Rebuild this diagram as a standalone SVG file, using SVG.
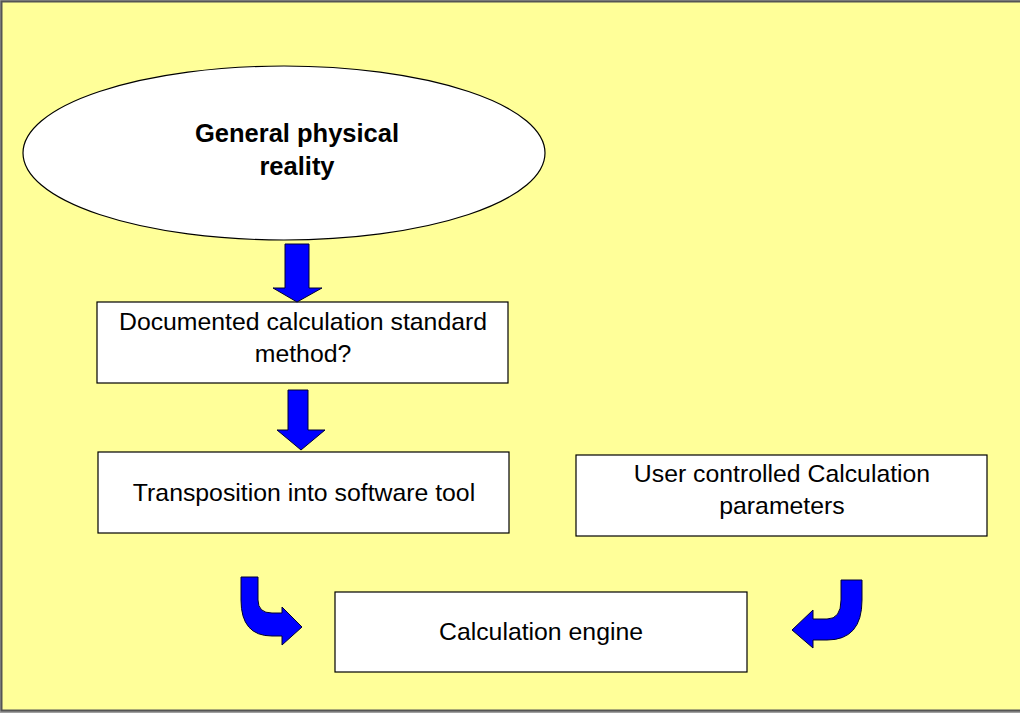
<svg xmlns="http://www.w3.org/2000/svg" width="1020" height="713" viewBox="0 0 1020 713">
<style>
.box{fill:#fff;stroke:#000;stroke-width:1.2}
.t{font-family:"Liberation Sans",Arial,sans-serif;font-size:24.8px;fill:#000;text-anchor:middle}
.b{font-weight:bold;font-size:25.5px}
.arr{fill:#0000ff;stroke:#000033;stroke-width:1}
</style>
<rect x="0" y="0" width="1020" height="713" fill="#a0a0a0"/>
<rect x="1.5" y="1.5" width="1020" height="709" fill="#ffff99" stroke="#555" stroke-width="2"/>
<g id="n1">
<ellipse cx="284" cy="153" rx="261" ry="87" class="box"/>
<text class="t b" x="297" y="142">General physical</text>
<text class="t b" x="297" y="175">reality</text>
</g>
<g id="n2">
<rect x="97" y="302" width="411" height="81" class="box"/>
<text class="t" x="303" y="330">Documented calculation standard</text>
<text class="t" x="303" y="362">method?</text>
</g>
<g id="n3">
<rect x="98" y="452" width="411" height="81" class="box"/>
<text class="t" x="304" y="501">Transposition into software tool</text>
</g>
<g id="n4">
<rect x="576" y="455" width="411" height="81" class="box"/>
<text class="t" x="782" y="482">User controlled Calculation</text>
<text class="t" x="782" y="514">parameters</text>
</g>
<g id="n5">
<rect x="335" y="592" width="412" height="80" class="box"/>
<text class="t" x="541" y="640">Calculation engine</text>
</g>
<g id="connectors">
<path class="arr" d="M285,244 L309,244 L309,288 L322,288 L297,302 L273,288 L285,288 Z"/>
<path class="arr" d="M288,390 L308,390 L308,430 L325,430 L301,450 L277,430 L288,430 Z"/>
<path class="arr" d="M241,577 L258,577 L258,600 Q258,613 272,613 L282,613 L282,607 L302,627 L282,645 L282,636 L272,636 Q241,636 241,600 Z"/>
<path class="arr" d="M841,580 L862,580 L862,600 Q862,640 827,640 L813,640 L813,648 L792,630 L813,610 L813,619 L827,619 Q841,619 841,600 Z"/>
</g>
</svg>
